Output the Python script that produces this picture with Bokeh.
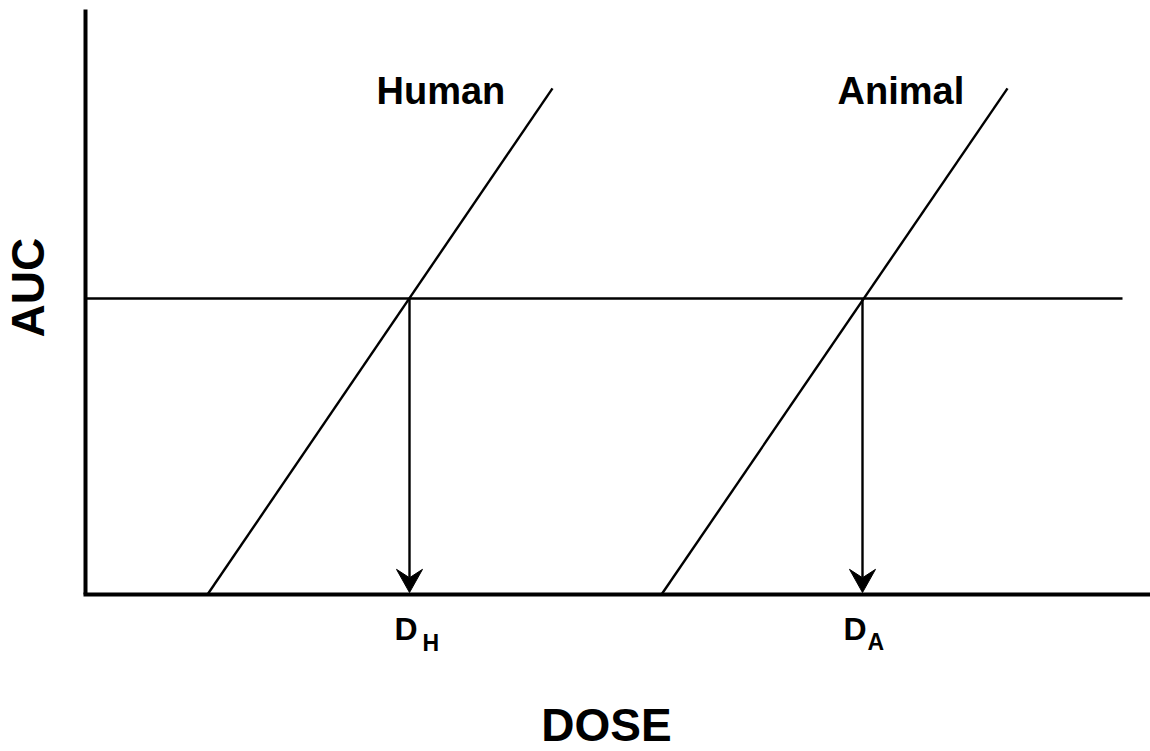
import math
from bokeh.plotting import figure
from bokeh.models import Range1d, LinearAxis, FixedTicker, Label
from bokeh.embed import file_html
from bokeh.resources import INLINE

# ---- data (schematic) ----
human_dose = [1.22, 4.67]
human_auc = [0.0, 5.13]
animal_dose = [5.76, 9.22]
animal_auc = [0.0, 5.13]
target_auc = 3.0
target_dose_span = [0.0, 10.37]
equiv_doses = [3.24, 7.77]          # D_H, D_A
dose_main = ["D", "D"]
dose_sub = ["H", "A"]
species = ["Human", "Animal"]
x_title = "DOSE"
y_title = "AUC"
auc_axis_top = 5.93

FONT = "Liberation Sans"

p = figure(width=1150, height=751, output_backend="svg", toolbar_location=None,
           x_range=Range1d(-0.85, 10.65), y_range=Range1d(-1.591, 6.020),
           x_axis_type=None, y_axis_type=None,
           min_border=0)
p.outline_line_color = None
p.background_fill_color = "white"
p.border_fill_color = "white"
p.grid.visible = False

# axes placed at the origin of the data space
yax = LinearAxis(ticker=FixedTicker(ticks=[]), axis_line_width=4, axis_line_color="black",
                 major_tick_line_color=None, minor_tick_line_color=None,
                 fixed_location=0, bounds=(0, auc_axis_top))
xax = LinearAxis(ticker=FixedTicker(ticks=[]), axis_line_width=4, axis_line_color="black",
                 major_tick_line_color=None, minor_tick_line_color=None,
                 fixed_location=0, bounds=(-0.02, 10.65))
p.add_layout(yax, "left")
p.add_layout(xax, "below")

LW = 2.4
# species lines
p.line(human_dose, human_auc, line_color="black", line_width=LW)
p.line(animal_dose, animal_auc, line_color="black", line_width=LW)
# target AUC line
p.line(target_dose_span, [target_auc, target_auc], line_color="black", line_width=LW)

# arrows down to equivalent doses
tip = 0.02
head_len = 0.235
head_half = 0.13
notch = 0.085
p.segment(x0=equiv_doses, y0=[target_auc] * 2, x1=equiv_doses, y1=[tip + head_len - notch] * 2,
          line_color="black", line_width=LW)
p.patches(xs=[[d, d - head_half, d, d + head_half] for d in equiv_doses],
          ys=[[tip, tip + head_len, tip + head_len - notch, tip + head_len] for _ in equiv_doses],
          fill_color="black", line_color="black", line_width=1)

# species labels
for name, x in zip(species, [2.91, 7.52]):
    p.add_layout(Label(x=x, y=5.10, text=name, text_font=FONT, text_font_style="bold",
                       text_font_size="38px", text_align="left", text_baseline="alphabetic",
                       text_color="black"))

# D_H / D_A labels
for m, s, xm, xs, ys in zip(dose_main, dose_sub, [3.09, 7.58], [3.37, 7.82], [-0.487, -0.477]):
    p.add_layout(Label(x=xm, y=-0.354, text=m, text_font=FONT, text_font_style="bold",
                       text_font_size="32px", text_align="left", text_baseline="alphabetic",
                       text_color="black"))
    p.add_layout(Label(x=xs, y=ys, text=s, text_font=FONT, text_font_style="bold",
                       text_font_size="23px", text_align="left", text_baseline="alphabetic",
                       text_color="black"))

# axis titles
p.add_layout(Label(x=5.21, y=-1.32, text=x_title, text_font=FONT, text_font_style="bold",
                   text_font_size="46px", text_align="center", text_baseline="alphabetic",
                   text_color="black"))
p.add_layout(Label(x=-0.58, y=3.11, text=y_title, text_font=FONT, text_font_style="bold",
                   text_font_size="46px", text_align="center", text_baseline="alphabetic",
                   angle=math.pi / 2, text_color="black"))

open("out.html", "w").write(file_html(p, INLINE))
